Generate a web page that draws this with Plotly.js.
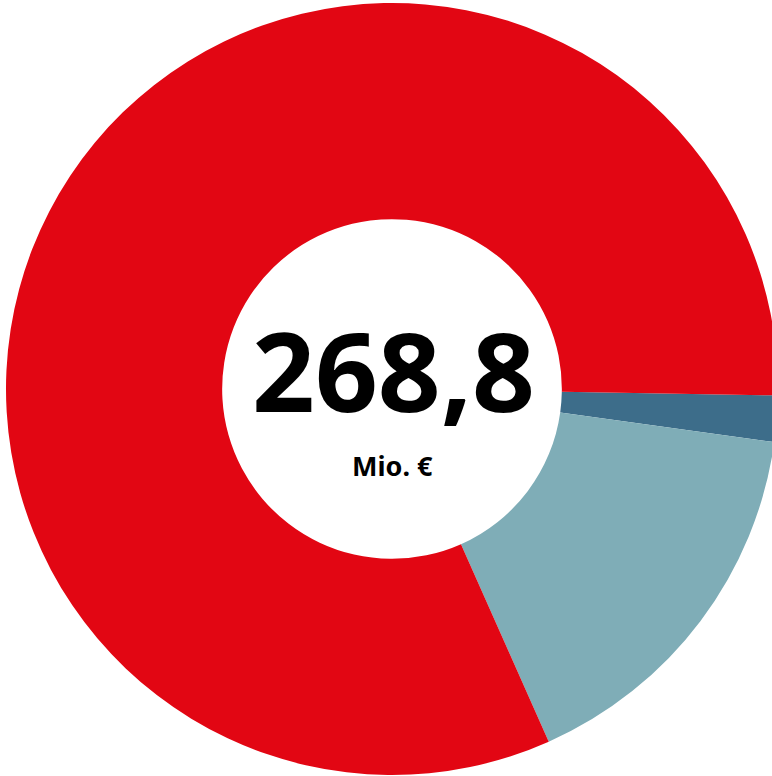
<!DOCTYPE html>
<html>
<head>
<meta charset="utf-8">
<script src="https://cdn.plot.ly/plotly-3.0.1.min.js"></script>
<style>
html, body { margin:0; padding:0; overflow:hidden; background:#fff; }
#chart { width:778px; height:776px; }
</style>
</head>
<body>
<div id="chart"></div>
<script>
const labels = ["Segment A", "Segment B", "Segment C"];
const values = [5.2, 43.4, 220.2];
const colors = ["#3D6D8A", "#7FADB7", "#E20613"];
const totalText = "268,8";
const unitText = "Mio. €";

const trace = {
  type: "pie",
  labels: labels,
  values: values,
  hole: 0.44,
  sort: false,
  direction: "clockwise",
  rotation: 90.95,
  textinfo: "none",
  hoverinfo: "label+value",
  marker: { colors: colors, line: { width: 0 } },
  showlegend: false
};

const layout = {
  width: 778,
  height: 776,
  margin: { l: 6, r: 0, t: 3, b: 1, pad: 0 },
  paper_bgcolor: "#ffffff",
  plot_bgcolor: "#ffffff",
  showlegend: false,
  annotations: [
    {
      text: "<b>" + totalText + "</b>",
      x: 0.502, y: 0.526, xref: "paper", yref: "paper",
      xanchor: "center", yanchor: "middle", showarrow: false,
      font: { family: "Noto Sans", size: 110, color: "#000000" }
    },
    {
      text: "<b>" + unitText + "</b>",
      x: 0.5, y: 0.4003, xref: "paper", yref: "paper",
      xanchor: "center", yanchor: "middle", showarrow: false,
      font: { family: "Noto Sans", size: 27, color: "#000000" }
    }
  ]
};

Plotly.newPlot("chart", [trace], layout, { staticPlot: true, displayModeBar: false });
</script>
</body>
</html>
